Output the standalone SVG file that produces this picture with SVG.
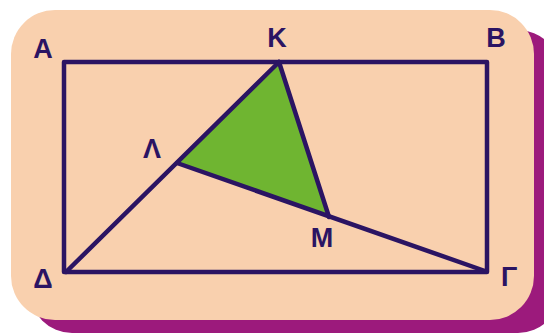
<svg xmlns="http://www.w3.org/2000/svg" width="544" height="334" viewBox="0 0 544 334">
  <style>
    .ln { fill: none; stroke: #2b1463; stroke-width: 4.5; stroke-linejoin: round; stroke-linecap: round; }
    .lbl { font-family: "Liberation Sans", Arial, sans-serif; font-weight: bold; font-size: 27px; fill: #2b1463; text-anchor: middle; }
  </style>
  <g id="background">
    <rect x="30" y="30" width="530" height="303" rx="42" fill="#9c1a7c"/>
    <rect x="11" y="10" width="523" height="310" rx="44" fill="#f9d0ae"/>
  </g>
  <g id="triangle-KLM">
    <polygon points="279,62 177,163 329,217" fill="#6fb531"/>
  </g>
  <g id="connectors">
    <rect class="ln" x="64" y="62" width="423" height="210"/>
    <line class="ln" x1="66" y1="272" x2="279" y2="62"/>
    <line class="ln" x1="485" y1="271" x2="177" y2="163"/>
    <line class="ln" x1="279" y1="62" x2="329" y2="217"/>
  </g>
  <g id="point-A"><text class="lbl" x="43" y="58">Α</text></g>
  <g id="point-K"><text class="lbl" x="277" y="47">Κ</text></g>
  <g id="point-B"><text class="lbl" x="496" y="47">Β</text></g>
  <g id="point-L"><text class="lbl" x="152" y="158">Λ</text></g>
  <g id="point-M"><text class="lbl" x="322" y="247">Μ</text></g>
  <g id="point-D"><text class="lbl" x="43" y="288">Δ</text></g>
  <g id="point-G"><text class="lbl" x="509" y="286">Γ</text></g>
</svg>
